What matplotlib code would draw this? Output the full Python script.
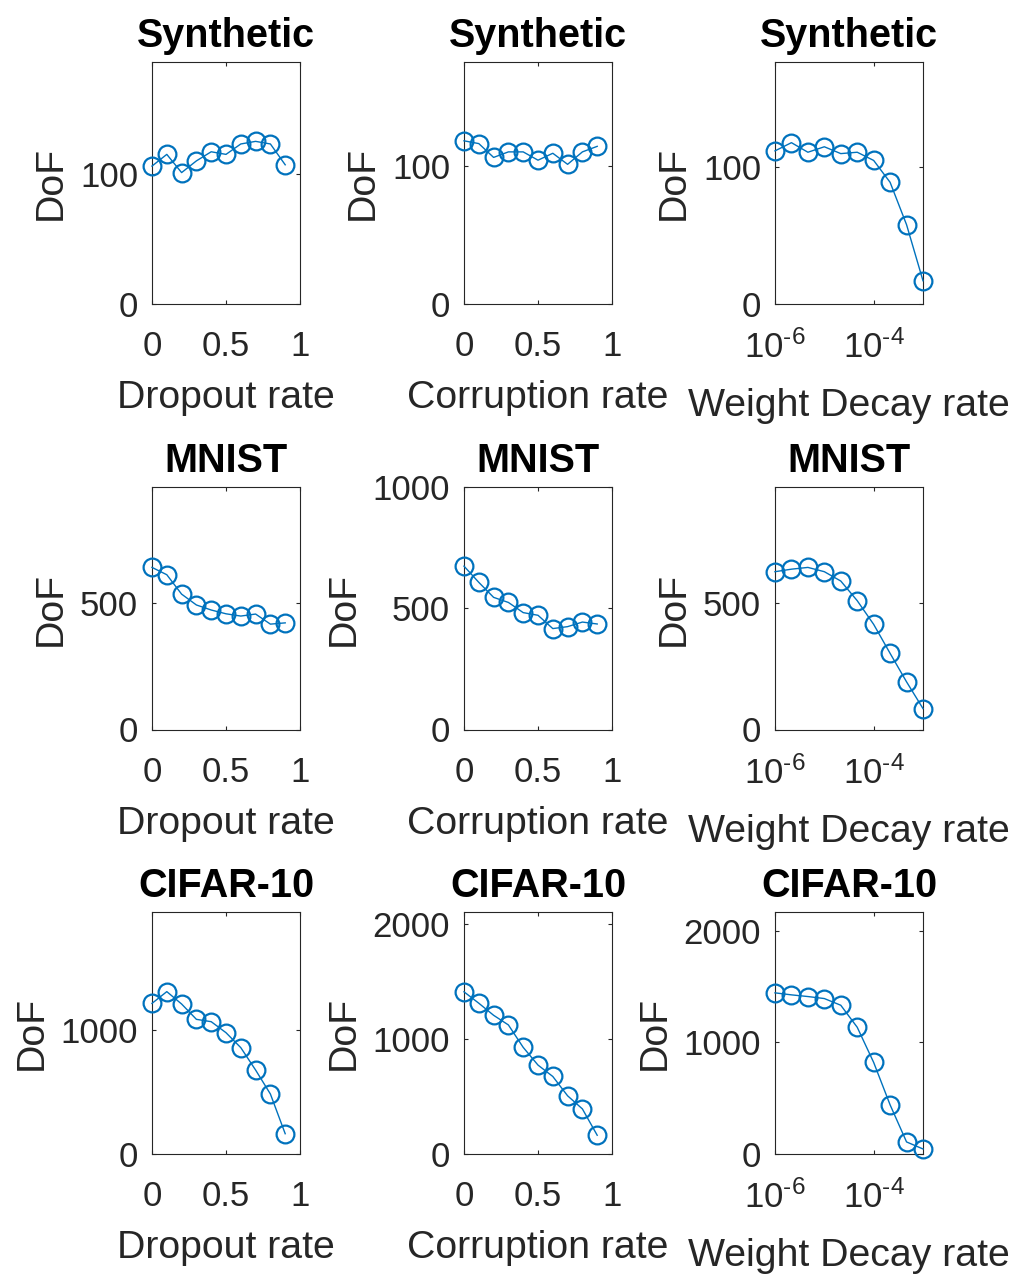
import matplotlib
matplotlib.use("Agg")
import matplotlib.pyplot as plt
from matplotlib.ticker import FixedLocator, NullLocator, FuncFormatter
import math

plt.rcParams['font.family'] = ['Liberation Sans', 'DejaVu Sans']
plt.rcParams['mathtext.fontset'] = 'custom'
plt.rcParams['mathtext.rm'] = 'Liberation Sans'
plt.rcParams['mathtext.it'] = 'Liberation Sans'
plt.rcParams['mathtext.default'] = 'regular'
plt.rcParams['axes.unicode_minus'] = False

# ---------------- data ----------------
datasets = ["Synthetic", "MNIST", "CIFAR-10"]
xlabels = ["Dropout rate", "Corruption rate", "Weight Decay rate"]

rates = [0.0, 0.1, 0.2, 0.3, 0.4, 0.5, 0.6, 0.7, 0.8, 0.9]
decay_rates = [1e-6, 2.154e-6, 4.642e-6, 1e-5, 2.154e-5, 4.642e-5,
               1e-4, 2.154e-4, 4.642e-4, 1e-3]

syn_dropout = [106, 115, 101, 110, 117, 115, 123, 125, 123, 107]
syn_corrupt = [118, 116, 106, 110, 110, 104, 109, 101, 110, 114]
syn_decay = [112, 118, 111, 115, 110, 111, 105, 89, 58, 17]

mnist_dropout = [643, 614, 537, 494, 474, 459, 450, 458, 418, 423]
mnist_corrupt = [675, 608, 546, 525, 483, 472, 417, 425, 444, 436]
mnist_decay = [626, 636, 643, 626, 589, 511, 417, 302, 189, 83]

cifar_dropout = [1218, 1313, 1213, 1089, 1070, 981, 860, 679, 485, 164]
cifar_corrupt = [1410, 1311, 1206, 1122, 927, 773, 674, 506, 392, 163]
cifar_decay = [1443, 1425, 1410, 1392, 1332, 1135, 820, 440, 108, 45]

values = [[syn_dropout, syn_corrupt, syn_decay],
          [mnist_dropout, mnist_corrupt, mnist_decay],
          [cifar_dropout, cifar_corrupt, cifar_decay]]

y_max = [[186, 175, 177],
         [960, 1000, 960],
         [1957, 2104, 2167]]
y_ticks = [[[0, 100], [0, 100], [0, 100]],
           [[0, 500], [0, 500, 1000], [0, 500]],
           [[0, 1000], [0, 1000, 2000], [0, 1000, 2000]]]
lin_xticks = [0, 0.5, 1]
lin_xticklabels = ['0', '0.5', '1']
log_xticks = [1e-6, 1e-4]

# ---------------- layout ----------------
W, H = 1016, 1278
fig = plt.figure(figsize=(W / 100, H / 100), dpi=100)

col_left = [152, 464, 775]
row_top = [62, 487.5, 912]
aw, ah = 148, 242

blue = '#0072BD'
axc = '#262626'


def log_fmt(v, pos):
    e = int(round(math.log10(v)))
    if e < 0:
        return r'$10^{\text{-}%d}$' % (-e)
    return r'$10^{%d}$' % e


for r in range(3):
    for c in range(3):
        ax = fig.add_axes([col_left[c] / W, 1 - (row_top[r] + ah) / H, aw / W, ah / H])
        x = decay_rates if c == 2 else rates
        ax.plot(x, values[r][c], '-o', color=blue, lw=1.0, ms=12.8,
                mfc='none', mew=1.6, clip_on=False, zorder=3)
        if c == 2:
            ax.set_xscale('log')
            ax.set_xlim(1e-6, 1e-3)
            ax.xaxis.set_major_locator(FixedLocator(log_xticks))
            ax.xaxis.set_major_formatter(FuncFormatter(log_fmt))
            ax.xaxis.set_minor_locator(NullLocator())
        else:
            ax.set_xlim(0, 1)
            ax.set_xticks(lin_xticks)
            ax.set_xticklabels(lin_xticklabels)
        ax.set_ylim(0, y_max[r][c])
        ax.set_yticks(y_ticks[r][c])
        ax.tick_params(axis='both', which='both', direction='in', length=3,
                       width=0.8, top=True, right=True, colors=axc,
                       labelsize=25, labelcolor=axc)
        ax.tick_params(axis='x', pad=19)
        ax.tick_params(axis='y', pad=10)
        for s in ax.spines.values():
            s.set_color(axc)
            s.set_linewidth(0.8)
        ax.set_xlabel(xlabels[c], fontsize=28.3, color=axc,
                      labelpad=17 if c == 2 else 12)
        ax.set_ylabel('DoF', fontsize=28.3, color=axc, labelpad=8)
        ax.set_title(datasets[r], fontsize=28.5, fontweight='bold', color='black', pad=11)

fig.savefig('out.png', dpi=100)
